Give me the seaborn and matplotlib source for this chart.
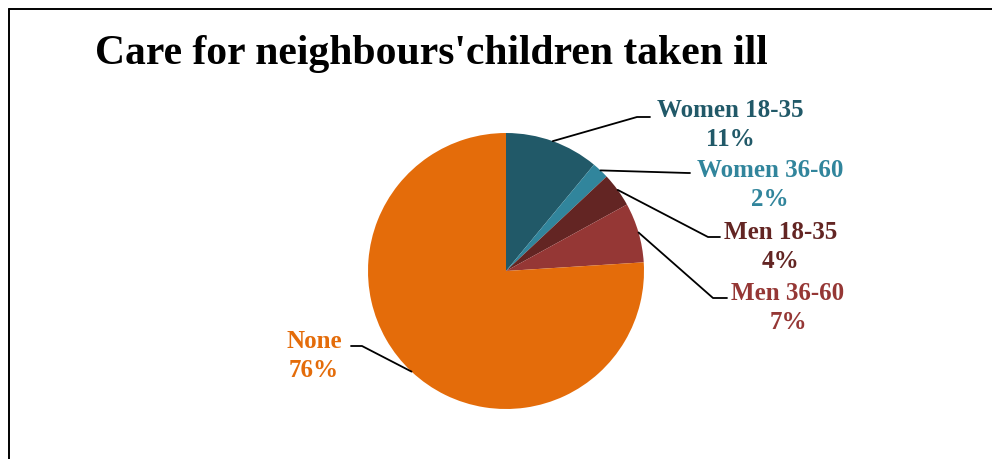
import numpy as np
import matplotlib
matplotlib.use("Agg")
import matplotlib.pyplot as plt
from matplotlib.lines import Line2D
import seaborn as sns

# Share of respondents who care for neighbours' children when they fall ill
groups = ["Women 18-35", "Women 36-60", "Men 18-35", "Men 36-60", "None"]
shares = [11, 2, 4, 7, 76]
slice_colors = ["#215968", "#31859C", "#632523", "#953735", "#E46C0A"]
title_text = "Care for neighbours'children taken ill"

sns.set_theme(style="white")
plt.rcParams["font.family"] = ["Liberation Serif", "DejaVu Serif"]

W, H = 992, 459
fig = plt.figure(figsize=(W / 100, H / 100), dpi=100)
fig.patch.set_facecolor("white")

# Pie placed by pixel centre and radius
cx, cy, r = 506, 271, 138
ax = fig.add_axes([(cx - r) / W, (H - cy - r) / H, 2 * r / W, 2 * r / H])
palette = sns.color_palette(slice_colors)
wedges, _ = ax.pie(shares, colors=palette, startangle=90, counterclock=False,
                   radius=1.0, wedgeprops=dict(linewidth=0))
ax.set_xlim(-1, 1)
ax.set_ylim(-1, 1)
ax.set_aspect("equal")
ax.axis("off")


def px(x, y):
    """Pixel position -> pie data units."""
    return (x - cx) / r, (cy - y) / r


# label layout: text centre, leader elbow, leader end (pixels)
layout = {
    "Women 18-35": ((730, 125), (637, 117), (650, 117)),
    "Women 36-60": ((770, 185), (688, 173), (690, 173)),
    "Men 18-35": ((781, 247), (708, 237), (720, 237)),
    "Men 36-60": ((788, 308), (713, 298), (727, 298)),
    "None": ((314, 356), (362, 346), (351, 346)),
}

for w, name, val, col in zip(wedges, groups, shares, palette):
    mid = np.deg2rad((w.theta1 + w.theta2) / 2)
    ax_, ay_ = np.cos(mid), np.sin(mid)
    (tx, ty), elbow, end = layout[name]
    ex, ey = px(*elbow)
    nx, ny = px(*end)
    ax.add_line(Line2D([ax_, ex, nx], [ay_, ey, ny], color="black",
                       linewidth=1.3, clip_on=False))
    lx, ly = px(tx, ty)
    ax.text(lx, ly, f"{name}\n{val}%", ha="center", va="center",
            color=col, fontsize=18, fontweight="bold", linespacing=1.37,
            clip_on=False)

fig.text(95 / W, 1 - 54 / H, title_text, ha="left", va="center",
         fontsize=30, fontweight="bold", color="black")

# outer frame (top and left edges visible)
fig.add_artist(Line2D([8.5 / W, 1.01], [1 - 8.5 / H, 1 - 8.5 / H],
                      transform=fig.transFigure, color="black", linewidth=1.4))
fig.add_artist(Line2D([8.5 / W, 8.5 / W], [1 - 8.5 / H, -0.01],
                      transform=fig.transFigure, color="black", linewidth=1.4))

fig.savefig("out.png", dpi=100, facecolor="white")
